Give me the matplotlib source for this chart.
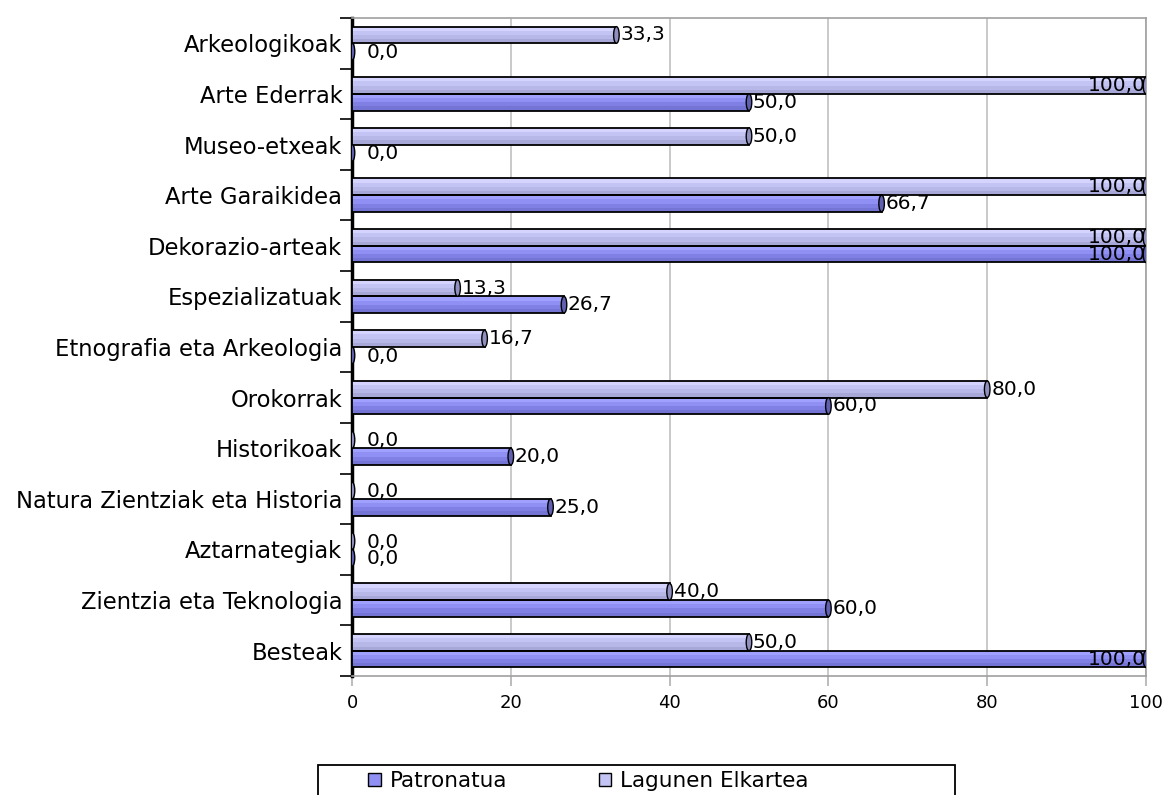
import numpy as np
import matplotlib.pyplot as plt
from matplotlib.patches import Rectangle, Ellipse, Patch

categories = ['Arkeologikoak', 'Arte Ederrak', 'Museo-etxeak', 'Arte Garaikidea',
              'Dekorazio-arteak', 'Espezializatuak', 'Etnografia eta Arkeologia',
              'Orokorrak', 'Historikoak', 'Natura Zientziak eta Historia',
              'Aztarnategiak', 'Zientzia eta Teknologia', 'Besteak']
patronatua = [0.0, 50.0, 0.0, 66.7, 100.0, 26.7, 0.0, 60.0, 20.0, 25.0, 0.0, 60.0, 100.0]
lagunen = [33.3, 100.0, 50.0, 100.0, 100.0, 13.3, 16.7, 80.0, 0.0, 0.0, 0.0, 40.0, 50.0]
x_ticks = [0, 20, 40, 60, 80, 100]

plt.rcParams['font.family'] = ['DejaVu Sans']

fig = plt.figure(figsize=(11.62, 7.95), dpi=100)
ax = fig.add_axes([352 / 1162, 1 - 676 / 795, (1146 - 352) / 1162, (676 - 18) / 795])

bar_h = 0.33
# colour ramps for the "cylinder" shading (top -> bottom)
pat_cols = ['#a0a0ff', '#9090f4', '#8080e4', '#7474d4']
lag_cols = ['#d4d4ff', '#c4c4f4', '#b8b8e8', '#a8a8d8']


def draw_bar(y, w, cols, face):
    y0 = y - bar_h / 2
    n = len(cols)
    for k, c in enumerate(cols):
        ax.add_patch(Rectangle((0, y0 + k * bar_h / n), w, bar_h / n,
                               facecolor=c, edgecolor='none', zorder=3))
    ax.add_patch(Rectangle((0, y0), w, bar_h, facecolor='none',
                           edgecolor='black', linewidth=1.3, zorder=4))
    ax.add_patch(Ellipse((w, y), 0.7, bar_h, facecolor=face,
                         edgecolor='black', linewidth=1.0, zorder=5))


def fmt(v):
    return f"{v:.1f}".replace('.', ',')


for i in range(len(categories)):
    yl = i - bar_h / 2
    yp = i + bar_h / 2
    draw_bar(yl, lagunen[i], lag_cols, '#9090c0')
    draw_bar(yp, patronatua[i], pat_cols, '#6060b0')
    for y, v in ((yl, lagunen[i]), (yp, patronatua[i])):
        if v >= 99.9:
            ax.text(v, y, fmt(v), ha='right', va='center', fontsize=14.5, zorder=6)
        elif v == 0:
            ax.text(v + 1.8, y + 0.02, fmt(v), ha='left', va='center', fontsize=14.5, zorder=6)
        else:
            ax.text(v + 0.5, y, fmt(v), ha='left', va='center', fontsize=14.5, zorder=6)

ax.set_xlim(0, 100)
ax.set_ylim(len(categories) - 0.5, -0.5)

ax.set_xticks(x_ticks)
ax.set_xticklabels([str(t) for t in x_ticks], fontsize=13)
ax.tick_params(axis='x', length=7, width=1.2, color='#b0b0b0', pad=6)
ax.grid(axis='x', color='#c0c0c0', linewidth=1.2, zorder=0)

ax.set_yticks(range(len(categories)))
ax.set_yticklabels(categories, fontsize=16.3)
ax.tick_params(axis='y', which='major', length=0, pad=7)
ax.set_yticks(np.arange(-0.5, len(categories), 1), minor=True)
ax.tick_params(axis='y', which='minor', length=8.6, width=1.2, color='black')

for s in ('top', 'right', 'bottom'):
    ax.spines[s].set_color('#a0a0a0')
    ax.spines[s].set_linewidth(1.2)
ax.spines['left'].set_color('black')
ax.spines['left'].set_linewidth(2.5)
ax.set_axisbelow(True)

# legend frame runs past the bottom edge of the figure, as in the original
fig.patches.append(Rectangle((318 / 1162, -0.05), (955 - 318) / 1162, 0.05 + (795 - 765) / 795,
                             transform=fig.transFigure, facecolor='white',
                             edgecolor='black', linewidth=1.3))
handles = [Patch(facecolor='#9090f4', edgecolor='black', label='Patronatua'),
           Patch(facecolor='#c4c4f4', edgecolor='black', label='Lagunen Elkartea')]
fig.legend(handles=handles, ncol=2, loc='center left',
           bbox_to_anchor=(368 / 1162, 1 - 781 / 795),
           fontsize=15.5, frameon=False,
           handlelength=0.6, handleheight=0.6, handletextpad=0.4,
           columnspacing=4.25, borderaxespad=0, borderpad=0)

fig.savefig('out.png', dpi=100)
